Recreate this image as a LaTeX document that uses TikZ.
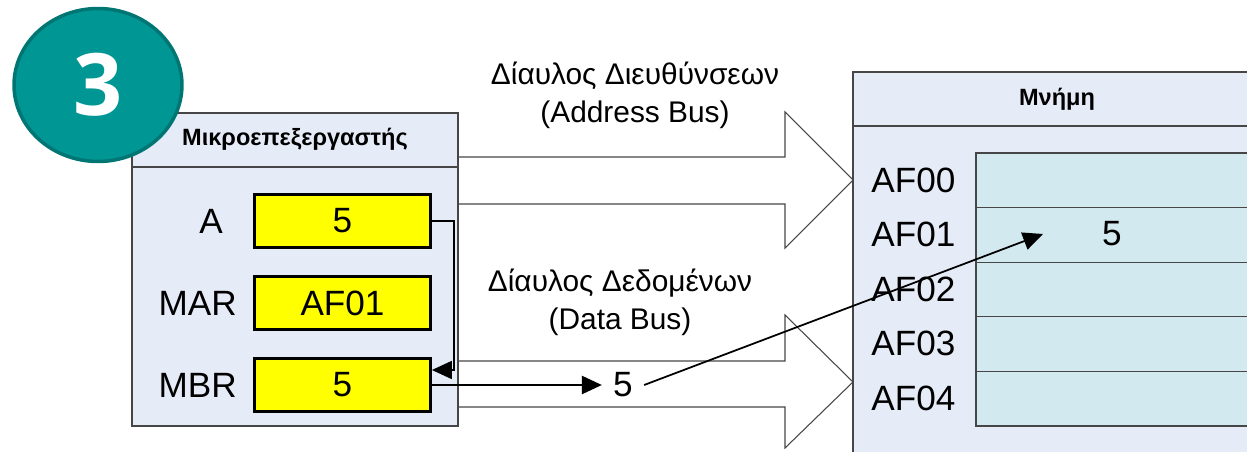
\documentclass[tikz,border=0pt]{standalone}
\usepackage{fontspec}
\setmainfont{Liberation Sans}
\newfontfamily\badgefont{Open Sans}
\usetikzlibrary{positioning}
\usetikzlibrary{arrows.meta}
\usetikzlibrary{shapes.geometric}

\definecolor{panelblue}{RGB}{230,236,247}
\definecolor{cellblue}{RGB}{211,233,240}
\definecolor{badgeteal}{RGB}{0,150,148}
\definecolor{badgeedge}{RGB}{0,118,116}
\definecolor{regyellow}{RGB}{255,255,0}
\definecolor{edgegray}{RGB}{70,70,70}

\tikzset{
  reg/.style={draw=black,line width=1.6pt,fill=regyellow,minimum width=3.52cm,
    minimum height=1.06cm,inner sep=0pt,font=\fontsize{20}{24}\selectfont},
  reglabel/.style={inner sep=0pt,font=\fontsize{20}{24}\selectfont},
  buslabel/.style={align=center,font=\fontsize{17}{21.5}\selectfont},
  boxtitle/.style={font=\bfseries\fontsize{13.4}{16}\selectfont},
  memlabel/.style={anchor=west,inner sep=0pt,font=\fontsize{20}{24}\selectfont},
  busarrow/.style={draw=edgegray,line width=0.6pt},
  panel/.style={draw=edgegray,line width=0.6pt,fill=panelblue},
  wire/.style={line width=1pt,-{Triangle[length=0.4cm,width=0.36cm]}},
}

\begin{document}
\begin{tikzpicture}[x=0.02cm,y=-0.02cm]
  \useasboundingbox (0,0) rectangle (1247,452);
  \clip (0,0) rectangle (1247,452);

  % buses
  \draw[busarrow] (458,157) -- (785,157) -- (785,112) -- (853,180) -- (785,248) -- (785,204) -- (458,204);
  \draw[busarrow] (458,361) -- (785,361) -- (785,315) -- (853,382) -- (785,448) -- (785,407) -- (458,407);
  \node[buslabel] (addrbus) at (635,95) {Δίαυλος Διευθύνσεων\\(Address Bus)};
  \node[buslabel] (databus) at (620,302) {Δίαυλος Δεδομένων\\(Data Bus)};

  % cpu
  \draw[panel] (132,113) rectangle (458,426);
  \draw[edgegray,line width=0.6pt] (132,167) -- (458,167);
  \node[boxtitle] (cpuname) at (295,139) {Μικροεπεξεργαστής};

  \node[reg] (regA) at (342.5,221) {5};
  \node[reg] (regMAR) at (342.5,303) {AF01};
  \node[reg] (regMBR) at (342.5,385) {5};
  \node[reglabel,left=0.6cm of regA] (lblA) {A};
  \node[reglabel,left=0.32cm of regMAR] (lblMAR) {MAR};
  \node[reglabel,left=0.32cm of regMBR] (lblMBR) {MBR};

  % memory
  \draw[panel] (853,72) rectangle (1300,480);
  \draw[edgegray,line width=0.6pt] (853,126) -- (1300,126);
  \node[boxtitle] (memname) at (1057,99) {Μνήμη};
  \foreach\i in {0,...,4} {
    \draw[edgegray,line width=0.6pt,fill=cellblue] (976,{153+54.6*\i}) rectangle ++(340,54.6);
    \node[memlabel] (addr\i) at (871,{180+54.6*\i}) {AF0\i};
  }
  \node[reglabel] (cellval) at (1112,234) {5};

  % transfers
  \draw[wire] (regA.east) -- ++(22,0) |- ([yshift=0.3cm]regMBR.east);
  \node[reglabel,inner sep=0.22cm] (bit) at (623,385) {5};
  \draw[wire,line width=1.4pt] (regMBR.east) -- (bit.west);
  \coordinate (slot) at (1043,234);
  \draw[wire] (bit.east) -- (slot);

  \node[ellipse,draw=badgeedge,line width=2pt,fill=badgeteal,minimum width=3.36cm,
    minimum height=3.06cm,text=white,font=\badgefont\bfseries\fontsize{49}{49}\selectfont] (badge) at (98,85) {3};
\end{tikzpicture}
\end{document}
